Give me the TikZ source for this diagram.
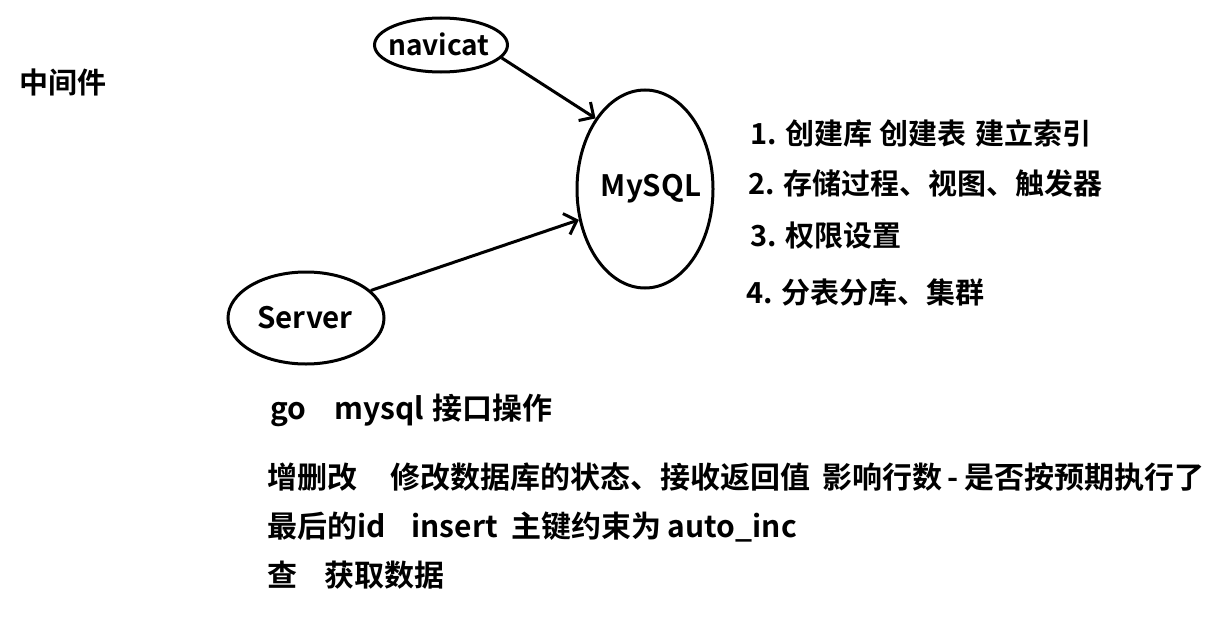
\documentclass[tikz,border=0pt]{standalone}
\usepackage{fontspec}
\setmainfont{Noto Sans CJK SC}[BoldFont={Noto Sans CJK SC Bold}]
\usetikzlibrary{arrows.meta,shapes.geometric}
\begin{document}
\begin{tikzpicture}[x=1pt,y=-1pt,
  ell/.style={draw, ellipse, line width=3pt, inner sep=0pt},
  txt/.style={font=\bfseries\fontsize{30}{36}\selectfont, inner sep=0pt, anchor=west},
  lst/.style={font=\bfseries\fontsize{29}{34}\selectfont, inner sep=0pt, anchor=west},
  lbl/.style={font=\bfseries\fontsize{29.5}{34}\selectfont, inner sep=0pt},
  arr/.style={-{Straight Barb[length=11pt,width=22pt]}, line width=3pt}]
\fill[white] (0,0) rectangle (1225,634);
\useasboundingbox (0,0) rectangle (1225,634);

\node[lst] (mid) at (19,82) {中间件};

\node[ell, minimum width=133pt, minimum height=54pt] (nav) at (441,45) {};
\node[lbl, font=\bfseries\fontsize{28}{32}\selectfont] (navt) at (439,44) {navicat};
\node[ell, minimum width=136pt, minimum height=198pt] (mys) at (645,189) {};
\node[lbl] (myst) at (651,189) {MySQL};
\node[ell, minimum width=156pt, minimum height=92pt] (srv) at (306,318) {};
\node[lbl] (srvt) at (305,318) {Server};

\draw[arr] (nav.-12) -- (mys.125);
\draw[arr] (srv.23) -- (mys.205);

\node[lst] (l1) at (750,133) {1. 创建库 创建表\hspace{9pt}建立索引};
\node[lst] (l2) at (748,183) {2. 存储过程、视图、触发器};
\node[lst] (l3) at (750,236) {3. 权限设置};
\node[lst] (l4) at (746,292) {4. 分表分库、集群};

\node[txt] (b1) at (270,410) {go\hspace{28pt}mysql\hspace{8pt}接口操作};
\node[txt] (b2) at (267,477) {增删改\hspace{33pt}修改数据库的状态、接收返回值\hspace{12pt}影响行数\hspace{5pt}-\hspace{6pt}是否按预期执行了};
\node[txt] (b3) at (267,527) {最后的id\hspace{26pt}insert\hspace{14pt}主键约束为\hspace{6pt}auto\_inc};
\node[txt] (b4) at (267,575) {查\hspace{27pt}获取数据};
\end{tikzpicture}
\end{document}
